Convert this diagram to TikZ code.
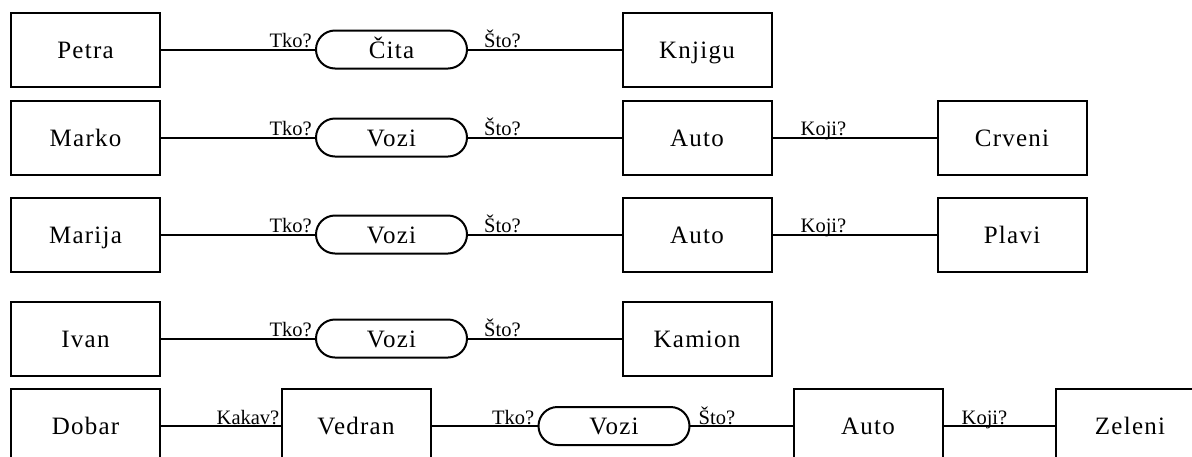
\documentclass[tikz,border=0pt]{standalone}
\usepackage{fontspec}
\setmainfont{Liberation Serif}
\newfontfamily\boxfont[LetterSpace=5]{Liberation Serif}
\begin{document}
\begin{tikzpicture}[x=1pt,y=-1pt,
  box/.style={draw, line width=2pt, minimum width=149pt, minimum height=74pt,
    inner sep=0pt, outer sep=0pt, text height=19pt, text depth=2pt,
    font=\boxfont\fontsize{25}{29}\selectfont},
  pill/.style={draw, line width=2pt, rounded corners=19pt, minimum width=151pt,
    minimum height=38pt, inner sep=0pt, outer sep=0pt, text height=19pt, text depth=2pt,
    font=\boxfont\fontsize{25}{29}\selectfont},
  lab/.style={inner sep=0pt, font=\fontsize{20.5}{24}\selectfont},
  conn/.style={line width=2pt}]
\clip (0,0) rectangle (1192,456);
\useasboundingbox (0,0) rectangle (1192,456);

% Row 1
\node[box] (a1) at (85.5,49.5) {Petra};
\node[pill] (p1) at (391.5,49.5) {Čita};
\node[box] (b1) at (697,49.5) {Knjigu};
\draw[conn] (a1) -- (p1);
\draw[conn] (p1) -- (b1);
\node[lab, anchor=base east] (t1) at ([xshift=-4pt,yshift=2pt]p1.west) {Tko?};
\node[lab, anchor=base west] (s1) at ([xshift=17pt,yshift=2pt]p1.east) {Što?};

% Row 2
\node[box] (a2) at (85.5,137.5) {Marko};
\node[pill] (p2) at (391.5,137.5) {Vozi};
\node[box] (b2) at (697,137.5) {Auto};
\node[box] (c2) at (1012,137.5) {Crveni};
\draw[conn] (a2) -- (p2);
\draw[conn] (p2) -- (b2);
\draw[conn] (b2) -- (c2);
\node[lab, anchor=base east] (t2) at ([xshift=-4pt,yshift=2pt]p2.west) {Tko?};
\node[lab, anchor=base west] (s2) at ([xshift=17pt,yshift=2pt]p2.east) {Što?};
\node[lab, anchor=base west] (k2) at ([xshift=29pt,yshift=2pt]b2.east) {Koji?};

% Row 3
\node[box] (a3) at (85.5,234.5) {Marija};
\node[pill] (p3) at (391.5,234.5) {Vozi};
\node[box] (b3) at (697,234.5) {Auto};
\node[box] (c3) at (1012,234.5) {Plavi};
\draw[conn] (a3) -- (p3);
\draw[conn] (p3) -- (b3);
\draw[conn] (b3) -- (c3);
\node[lab, anchor=base east] (t3) at ([xshift=-4pt,yshift=2pt]p3.west) {Tko?};
\node[lab, anchor=base west] (s3) at ([xshift=17pt,yshift=2pt]p3.east) {Što?};
\node[lab, anchor=base west] (k3) at ([xshift=29pt,yshift=2pt]b3.east) {Koji?};

% Row 4
\node[box] (a4) at (85.5,338.5) {Ivan};
\node[pill] (p4) at (391.5,338.5) {Vozi};
\node[box] (b4) at (697,338.5) {Kamion};
\draw[conn] (a4) -- (p4);
\draw[conn] (p4) -- (b4);
\node[lab, anchor=base east] (t4) at ([xshift=-4pt,yshift=2pt]p4.west) {Tko?};
\node[lab, anchor=base west] (s4) at ([xshift=17pt,yshift=2pt]p4.east) {Što?};

% Row 5
\node[box] (a5) at (85.5,426) {Dobar};
\node[box] (v5) at (356,426) {Vedran};
\node[pill] (p5) at (614,426) {Vozi};
\node[box] (b5) at (868,426) {Auto};
\node[box] (c5) at (1130,426) {Zeleni};
\draw[conn] (a5) -- (v5);
\draw[conn] (v5) -- (p5);
\draw[conn] (p5) -- (b5);
\draw[conn] (b5) -- (c5);
\node[lab, anchor=base east] (kk5) at ([xshift=-2pt,yshift=2pt]v5.west) {Kakav?};
\node[lab, anchor=base east] (t5) at ([xshift=-4pt,yshift=2pt]p5.west) {Tko?};
\node[lab, anchor=base west] (s5) at ([xshift=9pt,yshift=2pt]p5.east) {Što?};
\node[lab, anchor=base west] (k5) at ([xshift=19pt,yshift=2pt]b5.east) {Koji?};
\end{tikzpicture}
\end{document}
